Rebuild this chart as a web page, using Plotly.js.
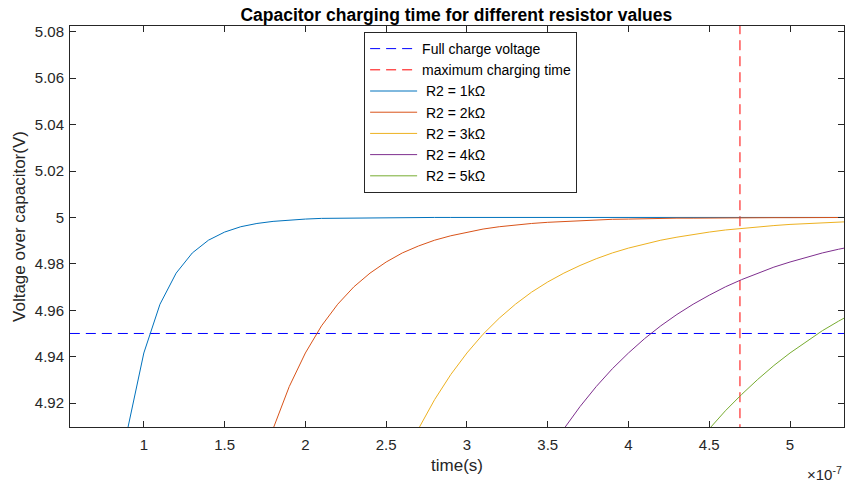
<!DOCTYPE html>
<html>
<head>
<meta charset="utf-8">
<script src="https://cdn.plot.ly/plotly-3.0.1.min.js"></script>
<style>html,body{margin:0;padding:0;background:#fff;}#chart{width:845px;height:482px;}</style>
</head>
<body>
<div id="chart"></div>
<script>
// time in units of 1e-7 s
var time = [0.8,0.9,1.0,1.1,1.2,1.3,1.4,1.5,1.6,1.7,1.8,1.9,2.0,2.1,2.2,2.3,2.4,2.5,2.6,2.7,2.8,2.9,3.0,3.1,3.2,3.3,3.4,3.5,3.6,3.7,3.8,3.9,4.0,4.1,4.2,4.3,4.4,4.5,4.6,4.7,4.8,4.9,5.0,5.1,5.2,5.3,5.4];
var v1k = [4.8578,4.9089,4.9416,4.9626,4.9760,4.9847,4.9902,4.9937,4.9960,4.9974,4.9983,4.9989,4.9993,4.9996,4.9997,4.9998,4.9999,4.9999,
  5.0000,5.0000,5.0000,5.0000,5.0000,5.0000,5.0000,5.0000,5.0000,5.0000,5.0000,5.0000,5.0000,5.0000,5.0000,5.0000,5.0000,5.0000,5.0000,5.0000,5.0000,5.0000,5.0000,5.0000,5.0000,5.0000,5.0000,5.0000,5.0000];
var v2k = [4.8862,4.9089,4.9271,4.9416,4.9533,4.9626,4.9701,4.9760,4.9808,4.9847,
  4.9877,4.9902,4.9921,4.9937,4.9950,4.9960,4.9968,4.9974,4.9979,4.9983,
  4.9987,4.9989,4.9992,4.9993,4.9995,4.9996,4.9997,4.9997,4.9998,4.9998,
  4.9999,4.9999,4.9999,4.9999,5.0000,5.0000,5.0000,5.0000];
var v3k = [4.8944,4.9089,4.9215,4.9323,4.9416,4.9497,4.9566,4.9626,4.9678,4.9722,
  4.9760,4.9793,4.9822,4.9847,4.9868,4.9886,4.9902,4.9915,4.9927,4.9937,
  4.9946,4.9953,4.9960,4.9965,4.9970,4.9974,4.9978,4.9981,4.9983];
var v4k = [4.8982,4.9089,4.9185,4.9271,4.9348,4.9416,4.9478,4.9533,4.9582,4.9626,
  4.9665,4.9701,4.9732,4.9760,4.9786,4.9808,4.9828,4.9847,4.9863,4.9877];
var v5k = [4.9004,4.9089,4.9167,4.9237,4.9302,4.9362,4.9416,4.9466,4.9512,4.9553,4.9591];
var seriesNames = [' R2 = 1k\u03A9',' R2 = 2k\u03A9',' R2 = 3k\u03A9',' R2 = 4k\u03A9',' R2 = 5k\u03A9'];
var seriesColors = ['#0072BD','#D95319','#EDB120','#7E2F8E','#77AC30'];
var fullChargeV = 4.95;
var maxChargeTime = 4.69;
var xRange = [0.543, 5.334];
var yRange = [4.9097, 5.0825];
var xTicks = [1,1.5,2,2.5,3,3.5,4,4.5,5];
var yTicks = [4.92,4.94,4.96,4.98,5,5.02,5.04,5.06,5.08];

var allV = [v1k,v2k,v3k,v4k,v5k];
var traces = [
  {x:[xRange[0]-0.1, xRange[1]+0.1], y:[fullChargeV, fullChargeV], mode:'lines', name:'Full charge voltage',
   line:{color:'#0000ff', width:1, dash:'10px,6px'}},
  {x:[maxChargeTime, maxChargeTime], y:[yRange[0]-0.01, yRange[1]+0.01], mode:'lines', name:'maximum charging time',
   line:{color:'#ff0000', width:1, dash:'10px,6px'}}
];
allV.forEach(function(v,i){
  traces.push({x: time.slice(time.length - v.length), y: v, mode:'lines', name: seriesNames[i],
    line:{color: seriesColors[i], width:1}});
});

var axisCommon = {showgrid:false, zeroline:false, showline:true, linecolor:'#262626', linewidth:1,
  mirror:'ticks', ticks:'inside', ticklen:6, tickcolor:'#262626', tickwidth:1,
  tickfont:{family:'Liberation Sans, Arial, sans-serif', size:15, color:'#262626'}};

var layout = {
  width:845, height:482,
  margin:{l:70, r:1, t:26, b:55},
  paper_bgcolor:'#fff', plot_bgcolor:'#fff',
  font:{family:'Liberation Sans, Arial, sans-serif', color:'#262626'},
  title:{text:'<b>Capacitor charging time for different resistor values</b>',
    font:{size:17.5, color:'#000'}, x:0.54, xanchor:'center', y:0.97, yanchor:'middle'},
  xaxis: Object.assign({}, axisCommon, {range:xRange, tickvals:xTicks, ticklabelstandoff:4,
    title:{text:'time(s)', font:{size:17, color:'#262626'}, standoff:7}}),
  yaxis: Object.assign({}, axisCommon, {range:yRange, tickvals:yTicks, ticklabelstandoff:2,
    title:{text:'Voltage over capacitor(V)', font:{size:17, color:'#262626'}, standoff:4}}),
  showlegend:true,
  legend:{x:0.38, y:0.985, xanchor:'left', yanchor:'top', bgcolor:'#fff', bordercolor:'#262626', borderwidth:1,
    font:{size:14, color:'#000'}, itemwidth:47, tracegroupgap:0},
  annotations:[{text:'\u00D710<sup>-7</sup>', xref:'paper', yref:'paper', x:1, y:0, xanchor:'right', yanchor:'top',
    yshift:-35, showarrow:false, font:{size:15, color:'#262626'}}]
};
Plotly.newPlot('chart', traces, layout, {staticPlot:true, displayModeBar:false});
</script>
</body>
</html>
